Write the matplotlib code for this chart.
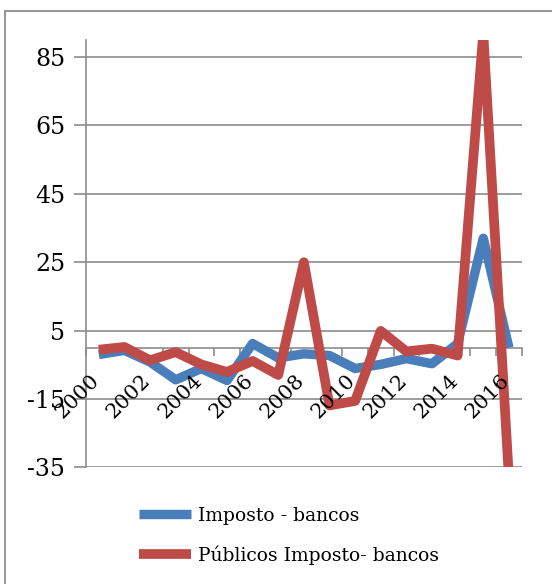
import matplotlib

matplotlib.use("Agg")
import matplotlib.pyplot as plt
from matplotlib.patches import Rectangle
from matplotlib.transforms import ScaledTranslation

years = list(range(2000, 2017))
imposto_bancos = [-2.0, -0.8, -4.2, -9.4, -6.1, -9.6, 1.2, -3.0, -1.8, -2.3,
                  -6.1, -4.9, -3.2, -4.7, 1.2, 32.0, 0.0]
publicos_imposto_bancos = [-0.6, 0.2, -3.7, -1.3, -4.9, -7.1, -3.9, -8.0, 25.0, -16.9,
                           -15.6, 4.9, -1.1, -0.3, -2.3, 92.0, -38.0]
y_ticks = [-35, -15, 5, 25, 45, 65, 85]

BLUE = "#4A7EBB"
RED = "#BE4B48"
GRAY = "#8C8C8C"
FONT = "DejaVu Serif"

fig = plt.figure(figsize=(5.52, 5.84), dpi=100)
ax = fig.add_axes([86 / 552, 1 - 467.3 / 584, (521.7 - 86) / 552, (467.3 - 40) / 584])

# outer chart frame, running past the right and bottom edges
fig.patches.append(Rectangle((5.5 / 552, -0.1), 1.2, 1 - 11 / 584 + 0.1,
                             transform=fig.transFigure, fill=False,
                             edgecolor=GRAY, linewidth=1.3))

x = list(range(len(years)))
ax.plot(x, imposto_bancos, color=BLUE, linewidth=6.8, solid_joinstyle="round",
        solid_capstyle="butt", label="Imposto - bancos", zorder=3)
ax.plot(x, publicos_imposto_bancos, color=RED, linewidth=7.0, solid_joinstyle="round",
        solid_capstyle="butt", label="Públicos Imposto- bancos", zorder=4)

ax.set_xlim(-0.5, len(years) - 0.5)
ax.set_ylim(-35, 90)

ax.set_yticks(y_ticks)
ax.set_yticklabels([str(v) for v in y_ticks], fontfamily=FONT, fontsize=17)
ax.yaxis.grid(True, color=GRAY, linewidth=1.2)
ax.set_axisbelow(True)
ax.tick_params(axis="y", length=9, width=1.2, color=GRAY, pad=6)

# category boundaries as tick marks
ax.set_xticks([k - 0.5 for k in range(len(years) + 1)])
ax.set_xticklabels([])
ax.tick_params(axis="x", length=6, width=1.2, color=GRAY, direction="out")

# year labels on every other category, slanted, sitting under the axis
shift = ScaledTranslation(-9 / 100, -23 / 100, fig.dpi_scale_trans)
for i in x[::2]:
    ax.text(i, 0, str(years[i]), transform=ax.transData + shift,
            fontfamily=FONT, fontsize=15, rotation=45, zorder=5,
            ha="right", va="top", rotation_mode="anchor", clip_on=False)

ax.spines["bottom"].set_position(("data", 0))
ax.spines["bottom"].set_color(GRAY)
ax.spines["bottom"].set_linewidth(1.2)
ax.spines["left"].set_color(GRAY)
ax.spines["left"].set_linewidth(1.2)
ax.spines["top"].set_visible(False)
ax.spines["right"].set_visible(False)

fig.legend(loc="upper left", bbox_to_anchor=(122 / 552, 1 - 490 / 584),
           frameon=False, prop={"family": FONT, "size": 13.5},
           handlelength=2.8, handletextpad=0.35, labelspacing=1.1)

fig.savefig("out.png", dpi=100)
